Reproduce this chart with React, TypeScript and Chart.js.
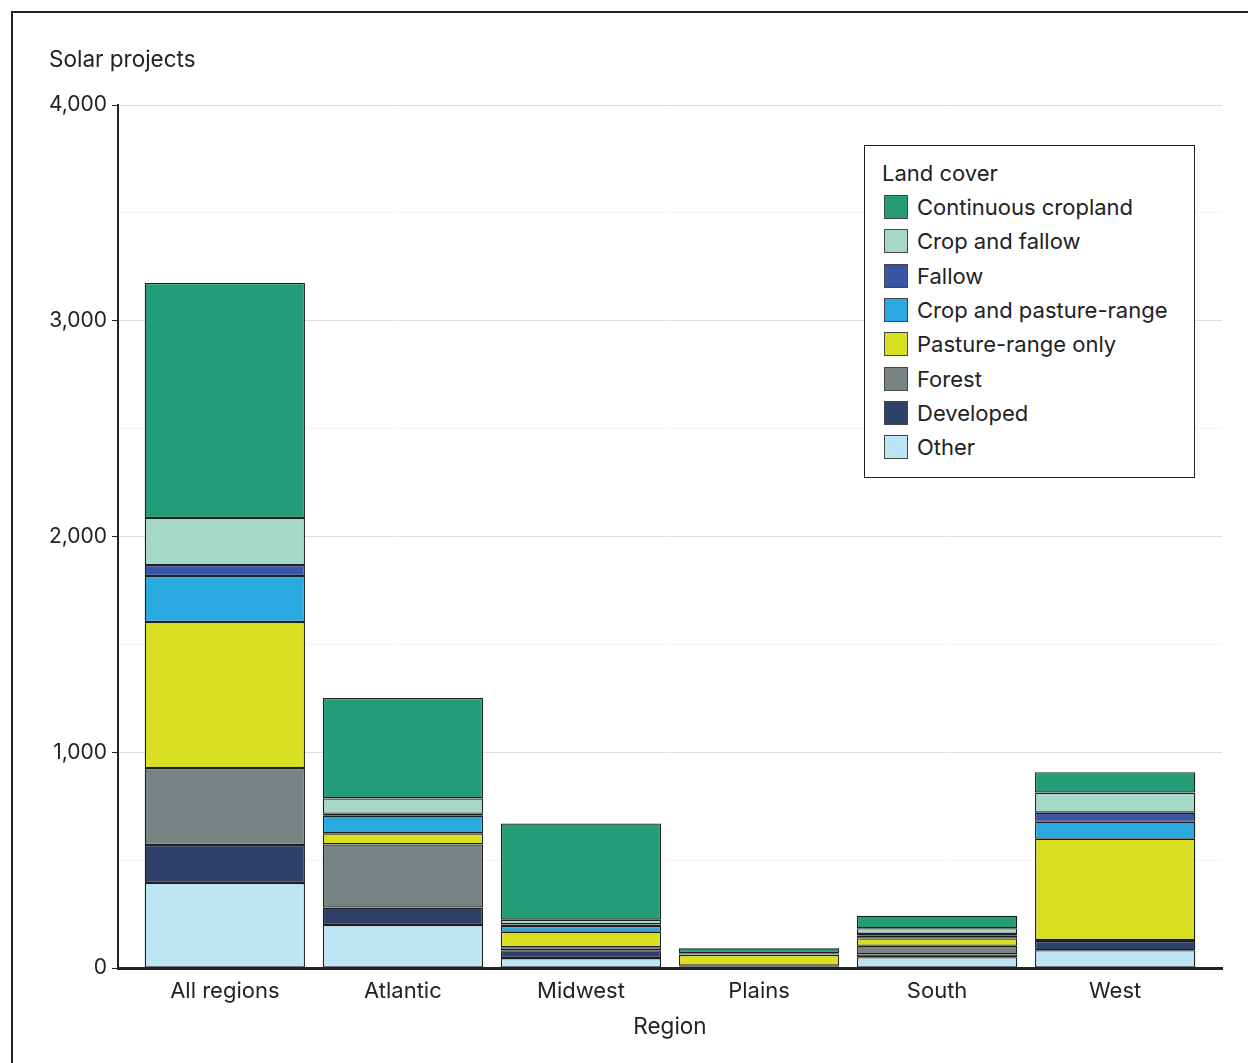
import { useEffect, useRef } from "react";
import { Chart, registerables } from "chart.js";

Chart.register(...registerables);

const regions = ["All regions", "Atlantic", "Midwest", "Plains", "South", "West"];

const landCovers = [
  "Continuous cropland",
  "Crop and fallow",
  "Fallow",
  "Crop and pasture-range",
  "Pasture-range only",
  "Forest",
  "Developed",
  "Other",
];

const coverColors = [
  "#239c77",
  "#a5d8c9",
  "#3a55a4",
  "#2aa8e0",
  "#d9df21",
  "#788383",
  "#2e416b",
  "#bee5f4",
];

const continuousCropland = [1089, 466, 446, 21, 58, 94];
const cropAndFallow = [218, 71, 22, 4, 26, 93];
const fallow = [51, 9, 7, 2, 8, 42];
const cropAndPastureRange = [213, 82, 27, 3, 13, 79];
const pastureRangeOnly = [677, 51, 72, 50, 34, 469];
const forest = [357, 293, 14, 3, 40, 5];
const developed = [176, 81, 36, 4, 13, 43];
const other = [394, 199, 46, 4, 50, 82];

const seriesValues = [
  continuousCropland,
  cropAndFallow,
  fallow,
  cropAndPastureRange,
  pastureRangeOnly,
  forest,
  developed,
  other,
];

const yMax = 4000;
const yStep = 500;
const yLabelStep = 1000;

const FONT = "Inter, 'Noto Sans', sans-serif";
const TEXT = "#222";

const yTitlePlugin = {
  id: "yTitle",
  afterDraw(chart: any) {
    const ctx = chart.ctx;
    ctx.save();
    ctx.font = `22.5px ${FONT}`;
    ctx.fillStyle = TEXT;
    ctx.textBaseline = "middle";
    ctx.textAlign = "left";
    ctx.fillText("Solar projects", chart.chartArea.left - 69, 60);
    ctx.restore();
  },
};

export default function App() {
  const canvasRef = useRef<HTMLCanvasElement | null>(null);

  useEffect(() => {
    if (!canvasRef.current) return;
    // bottom of stack first
    const order = [7, 6, 5, 4, 3, 2, 1, 0];
    const datasets = order.map((k) => ({
      label: landCovers[k],
      data: seriesValues[k].map((v, i) => ({ x: i, y: v })),
      backgroundColor: coverColors[k],
      borderColor: "#1f1f1f",
      borderWidth: 1.3,
      borderSkipped: false as const,
      barPercentage: 0.9,
      categoryPercentage: 1,
    }));

    const chart = new Chart(canvasRef.current, {
      type: "bar",
      data: { datasets },
      plugins: [yTitlePlugin],
      options: {
        animation: false,
        responsive: true,
        maintainAspectRatio: false,
        layout: { padding: { left: 40, right: 26, top: 105, bottom: 0 } },
        plugins: {
          legend: { display: false },
          tooltip: { enabled: false },
          title: { display: false },
        },
        scales: {
          x: {
            type: "linear",
            stacked: true,
            offset: false,
            min: -0.6,
            max: regions.length - 1 + 0.6,
            z: 1,
            afterBuildTicks: (s: any) => {
              s.ticks = regions.map((_, i) => ({ value: i }));
            },
            afterFit: (s: any) => {
              s.height = 95;
            },
            ticks: {
              autoSkip: false,
              maxRotation: 0,
              padding: 10,
              color: TEXT,
              font: { family: FONT, size: 22 },
              callback: (v: any) => regions[Math.round(Number(v))] ?? "",
            },
            grid: { display: false, drawTicks: false, tickLength: 0, offset: false },
            border: { display: true, color: "#222", width: 3 },
            title: {
              display: true,
              text: "Region",
              color: TEXT,
              font: { family: FONT, size: 22.5 },
              padding: { top: 0, bottom: 22 },
            },
          },
          y: {
            stacked: true,
            min: 0,
            max: yMax,
            afterFit: (s: any) => {
              s.width = 78;
            },
            ticks: {
              stepSize: yStep,
              autoSkip: false,
              padding: 5,
              color: TEXT,
              font: { family: FONT, size: 21 },
              callback: (v: any) =>
                Number(v) % yLabelStep === 0 ? Number(v).toLocaleString("en-US") : "",
            },
            grid: {
              drawTicks: true,
              tickLength: 6,
              lineWidth: 1,
              color: (ctx: any) =>
                ctx.tick && ctx.tick.value % yLabelStep === 0 ? "#dedede" : "#f4f4f4",
              tickColor: (ctx: any) =>
                ctx.tick && ctx.tick.value % yLabelStep === 0 ? "#222" : "rgba(0,0,0,0)",
            },
            border: { display: true, color: "#222", width: 2 },
          },
        },
      },
    });
    return () => chart.destroy();
  }, []);

  return (
    <div
      style={{
        position: "absolute",
        left: 0,
        top: 0,
        width: 1248,
        height: 1063,
        overflow: "hidden",
        background: "#fff",
        fontFamily: FONT,
      }}
    >
      <div
        style={{
          position: "absolute",
          left: 11,
          top: 11,
          width: 1400,
          height: 1200,
          border: "2px solid #222",
        }}
      />
      <div style={{ position: "absolute", left: 0, top: 0, width: 1248, height: 1063 }}>
        <canvas ref={canvasRef} style={{ width: "100%", height: "100%" }} />
      </div>
      <div
        style={{
          position: "absolute",
          left: 864,
          top: 145,
          width: 331,
          height: 333,
          border: "1px solid #222",
          background: "#fff",
          color: TEXT,
          boxSizing: "border-box",
          padding: "12px 0 0 17px",
        }}
      >
        <div style={{ fontSize: 22, lineHeight: "30px", height: 30, marginBottom: 2 }}>
          Land cover
        </div>
        {landCovers.map((name, k) => (
          <div
            key={name}
            style={{
              display: "flex",
              alignItems: "center",
              height: 34.3,
              fontSize: 22,
            }}
          >
            <span
              style={{
                display: "inline-block",
                width: 22,
                height: 22,
                marginLeft: 2,
                marginRight: 9,
                background: coverColors[k],
                border: "1px solid #444",
              }}
            />
            <span>{name}</span>
          </div>
        ))}
      </div>
    </div>
  );
}
